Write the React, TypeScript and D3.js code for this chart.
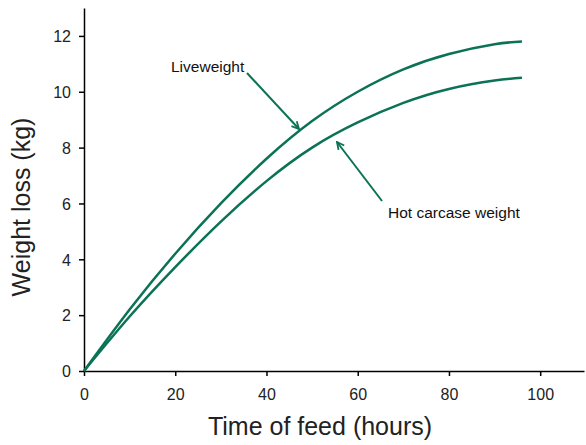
import * as React from 'react';
import * as d3 from 'd3';

const hours = [0, 10, 20, 30, 40, 50, 60, 70, 80, 90, 96];
const liveweight = [0, 2.2, 4.2, 6.0, 7.6, 8.95, 10.0, 10.8, 11.35, 11.7, 11.8];
const hotCarcase = [0, 1.95, 3.72, 5.35, 6.8, 8.0, 8.9, 9.6, 10.1, 10.4, 10.5];
const xTicks = [0, 20, 40, 60, 80, 100];
const yTicks = [0, 2, 4, 6, 8, 10, 12];

const width = 586;
const height = 445;
const green = '#0b7255';
const font = '"Liberation Sans", Arial, sans-serif';

export default function App() {
  const ref = React.useRef<SVGSVGElement>(null);

  React.useEffect(() => {
    const svg = d3.select(ref.current);
    svg.selectAll('*').remove();

    const x = d3.scaleLinear().domain([0, 109.6]).range([84, 584]);
    const y = d3.scaleLinear().domain([0, 13]).range([371, 8]);

    svg.append('defs').append('marker')
      .attr('id', 'arrow')
      .attr('viewBox', '0 0 10 10')
      .attr('refX', 9)
      .attr('refY', 5)
      .attr('markerWidth', 9)
      .attr('markerHeight', 9)
      .attr('markerUnits', 'userSpaceOnUse')
      .attr('orient', 'auto')
      .append('path')
      .attr('d', 'M1,1 L9,5 L1,9')
      .attr('fill', 'none')
      .attr('stroke', green)
      .attr('stroke-width', 2);

    const xAxis = svg.append('g')
      .attr('transform', `translate(0,${y(0)})`)
      .call(d3.axisBottom(x).tickValues(xTicks).tickSize(5).tickPadding(13).tickSizeOuter(0));
    const yAxis = svg.append('g')
      .attr('transform', `translate(${x(0)},0)`)
      .call(d3.axisLeft(y).tickValues(yTicks).tickSize(5).tickPadding(8).tickSizeOuter(0));

    [xAxis, yAxis].forEach(a => {
      a.select('.domain').attr('stroke', '#000').attr('stroke-width', 1.5);
      a.selectAll('.tick line').attr('stroke', '#000').attr('stroke-width', 1.5);
      a.selectAll('.tick text')
        .attr('fill', '#222')
        .style('font-family', font)
        .style('font-size', '16px');
    });
    yAxis.selectAll('.tick text').attr('dy', '0.36em');

    const line = d3.line<number>()
      .x((d, i) => x(hours[i]))
      .y(d => y(d))
      .curve(d3.curveNatural);

    [liveweight, hotCarcase].forEach(series => {
      svg.append('path')
        .attr('d', line(series))
        .attr('fill', 'none')
        .attr('stroke', green)
        .attr('stroke-width', 2.5);
    });

    const arrows = [
      { x1: 247, y1: 73, x2: 299, y2: 129 },
      { x1: 382, y1: 201, x2: 337, y2: 142 },
    ];
    arrows.forEach(a => {
      svg.append('line')
        .attr('x1', a.x1).attr('y1', a.y1)
        .attr('x2', a.x2).attr('y2', a.y2)
        .attr('stroke', green)
        .attr('stroke-width', 2)
        .attr('marker-end', 'url(#arrow)');
    });

    svg.append('text')
      .attr('x', 171).attr('y', 72)
      .style('font-family', font).style('font-size', '15.5px')
      .attr('fill', '#111')
      .text('Liveweight');
    svg.append('text')
      .attr('x', 388).attr('y', 218)
      .style('font-family', font).style('font-size', '15.5px')
      .attr('fill', '#111')
      .text('Hot carcase weight');

    svg.append('text')
      .attr('x', 320).attr('y', 435)
      .attr('text-anchor', 'middle')
      .style('font-family', font).style('font-size', '25px')
      .attr('fill', '#222')
      .text('Time of feed (hours)');
    svg.append('text')
      .attr('transform', `translate(30,207) rotate(-90)`)
      .attr('text-anchor', 'middle')
      .style('font-family', font).style('font-size', '25px')
      .attr('fill', '#222')
      .text('Weight loss (kg)');
  }, []);

  return (
    <div style={{ position: 'absolute', left: 0, top: 0 }}>
      <svg ref={ref} width={width} height={height} style={{ display: 'block', background: '#fff' }} />
    </div>
  );
}
